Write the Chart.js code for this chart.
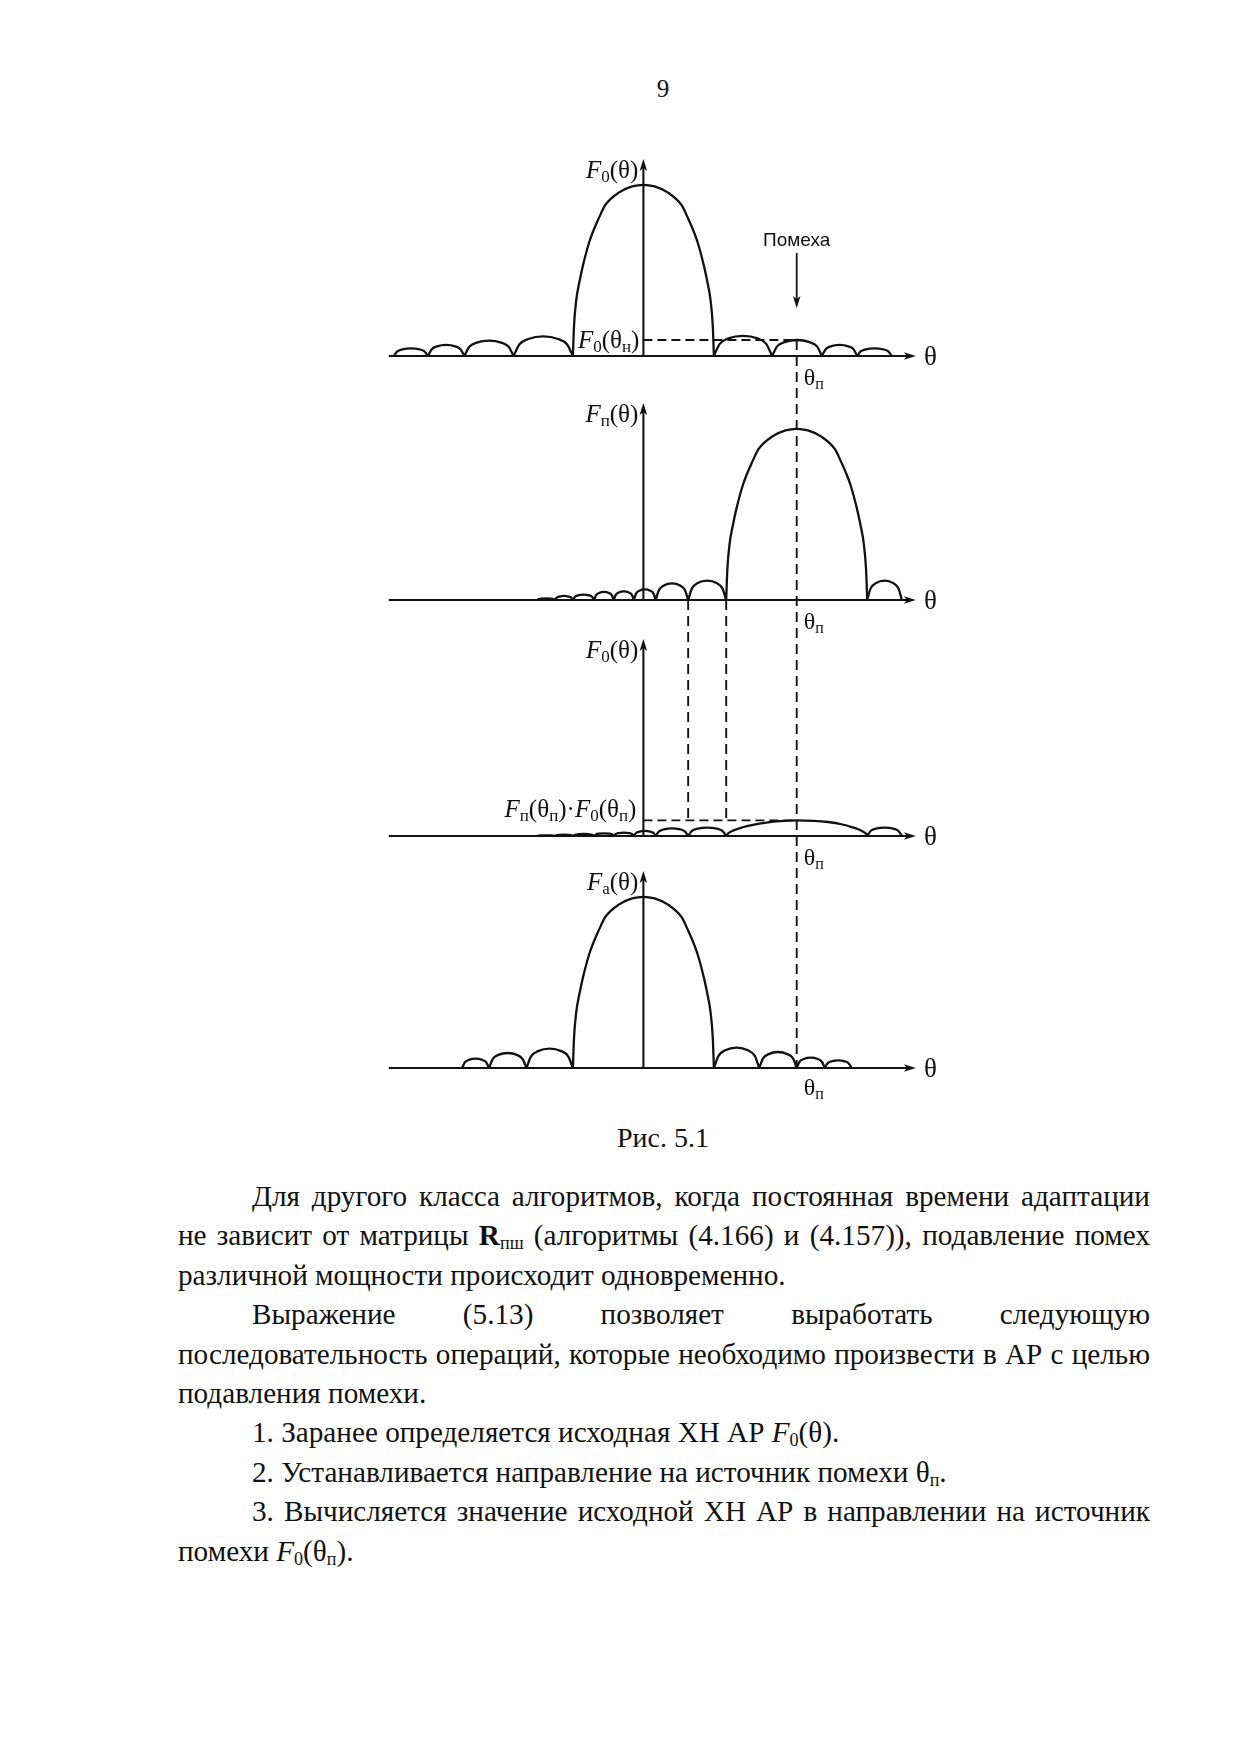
<!DOCTYPE html>
<html><head><meta charset="utf-8">
<script src="https://cdn.jsdelivr.net/npm/chart.js@4/dist/chart.umd.min.js"></script>
<style>
html,body{margin:0;padding:0;background:#fff;}
body{width:1241px;height:1754px;position:relative;overflow:hidden;font-family:"Liberation Serif","Times New Roman",serif;color:#111;}
#fig{position:absolute;left:0;top:0;}
.pg{position:absolute;left:563px;width:200px;top:76px;text-align:center;font-size:25px;line-height:25px;}
.cap{position:absolute;left:513px;width:300px;top:1124px;text-align:center;font-size:28px;line-height:28px;}
.body{position:absolute;left:178px;width:972px;top:1177px;font-size:29.2px;line-height:39.4px;}
.body div{text-align:justify;text-align-last:justify;white-space:normal;}
.body div.l{text-align:left;text-align-last:left;}
.body div.ind{text-indent:74px;}
sub{font-size:62%;vertical-align:-0.22em;line-height:0;}
</style></head>
<body>
<div class="pg">9</div>
<canvas id="fig" width="1241" height="1120"></canvas>
<div class="cap">Рис. 5.1</div>
<div class="body">
<div class="ind">Для другого класса алгоритмов, когда постоянная времени адаптации</div>
<div>не зависит от матрицы <b>R</b><sub>пш</sub> (алгоритмы (4.166) и (4.157)), подавление помех</div>
<div class="l">различной мощности происходит одновременно.</div>
<div class="ind">Выражение (5.13) позволяет выработать следующую</div>
<div>последовательность операций, которые необходимо произвести в АР с целью</div>
<div class="l">подавления помехи.</div>
<div class="ind l">1. Заранее определяется исходная ХН АР <i>F</i><sub>0</sub>(θ).</div>
<div class="ind l">2. Устанавливается направление на источник помехи θ<sub>п</sub>.</div>
<div class="ind">3. Вычисляется значение исходной ХН АР в направлении на источник</div>
<div class="l">помехи <i>F</i><sub>0</sub>(θ<sub>п</sub>).</div>
</div>
<script>
// ---------- DATA (θ in arbitrary units, axis at 0; F in the same units) ----------
const thetaInterference = 137;      // θп
const levelF0AtInterference = 14.3; // F0(θп)
const levelProduct = 14;            // Fп(θп)·F0(θп)
const dashedNulls = [40, 74];       // nulls of Fп carried down to the product plot

// Original pattern F0(θ): lobes
const lobesF0 = [
  [[-223,0],[-220,4.1],[-215.4,6.0],[-207.8,6.9],[-200.1,6.0],[-195.6,4.1],[-192.5,0]],
  [[-192.5,0],[-189.3,5.9],[-184.4,8.6],[-176.3,9.9],[-168.1,8.6],[-163.3,5.9],[-160,0]],
  [[-160,0],[-155.6,8.2],[-149,11.9],[-138,13.7],[-127,11.9],[-120.4,8.2],[-116,0]],
  [[-116,0],[-110.7,10.5],[-102.8,15.2],[-89.5,17.5],[-76.3,15.2],[-68.3,10.5],[-63,0]],
  [[-63,0],[-62,27],[-60,50],[-57,67],[-54,81],[-48,103],[-39,125],[-34,135],[-22,146],[-10,151.5],[0,153],
   [10,151.5],[22,146],[34,135],[39,125],[48,103],[54,81],[57,67],[60,50],[62,27],[63,0]],
  [[63,0],[68.2,10.8],[76,15.7],[89,18],[102,15.7],[109.8,10.8],[115,0]],
  [[115,0],[119.5,8.6],[126.1,12.4],[137.3,14.3],[148.4,12.4],[155.1,8.6],[159.5,0]],
  [[159.5,0],[162.7,5.9],[167.4,8.6],[175.3,9.9],[183.1,8.6],[187.9,5.9],[191,0]],
  [[191,0],[194.1,4.1],[198.8,6.0],[206.5,6.9],[214.3,6.0],[218.9,4.1],[222,0]]
];
// Compensating pattern Fп(θ) steered to θп
const lobesFp = [
  [[-95,0],[-93.4,0.9],[-91,1.3],[-87,1.5],[-83,1.3],[-80.6,0.9],[-79,0]],
  [[-79,0],[-77.4,2.2],[-75,3.1],[-71,3.6],[-67,3.1],[-64.6,2.2],[-63,0]],
  [[-63,0],[-61.1,2.9],[-58.3,4.2],[-53.5,4.8],[-48.8,4.2],[-45.9,2.9],[-44,0]],
  [[-44,0],[-42.3,4.3],[-39.6,6.3],[-35.3,7.2],[-30.9,6.3],[-28.3,4.3],[-26.5,0]],
  [[-26.5,0],[-24.7,4.6],[-22,6.7],[-17.5,7.7],[-13,6.7],[-10.3,4.6],[-8.5,0]],
  [[-8.5,0],[-6.6,5.7],[-3.6,8.3],[1.3,9.5],[6.1,8.3],[9.1,5.7],[11,0]],
  [[11,0],[13.9,8.9],[18.3,13],[25.5,14.9],[32.8,13],[37.1,8.9],[40,0]],
  [[40,0],[43.4,10.4],[48.5,15.1],[57,17.3],[65.5,15.1],[70.6,10.4],[74,0]],
  [[74,0],[75,27],[77,50],[80,67],[83,81],[89,103],[98,125],[103,135],[115,146],[127,151.5],[137,153],
   [147,151.5],[159,146],[171,135],[176,125],[185,103],[191,81],[194,67],[197,50],[199,27],[200,0]],
  [[200,0],[203.1,10.4],[207.8,15.1],[215.5,17.3],[223.3,15.1],[227.9,10.4],[231,0]]
];
// Product Fп(θ)·F0(θп)
const lobesProduct = [
  [[-95,0],[-93.4,0.36],[-91,0.52],[-87,0.6],[-83,0.52],[-80.6,0.36],[-79,0]],
  [[-79,0],[-77.4,0.72],[-75,1.04],[-71,1.2],[-67,1.04],[-64.6,0.72],[-63,0]],
  [[-63,0],[-61.1,1.08],[-58.3,1.57],[-53.5,1.8],[-48.8,1.57],[-45.9,1.08],[-44,0]],
  [[-44,0],[-42.3,1.44],[-39.6,2.09],[-35.3,2.4],[-30.9,2.09],[-28.3,1.44],[-26.5,0]],
  [[-26.5,0],[-24.7,1.8],[-22,2.61],[-17.5,3],[-13,2.61],[-10.3,1.8],[-8.5,0]],
  [[-8.5,0],[-6.6,2.7],[-3.6,3.92],[1.3,4.5],[6.1,3.92],[9.1,2.7],[11,0]],
  [[11,0],[13.9,4.1],[18.3,6.0],[25.5,6.9],[32.8,6.0],[37.1,4.1],[40,0]],
  [[40,0],[43.4,4.5],[48.5,6.5],[57,7.5],[65.5,6.5],[70.6,4.5],[74,0]],
  [[74,0],[76,2.5],[80,4.8],[88,7.6],[98,10],[110,12],[122,13.3],[137,14],[152,13.6],[165,12.5],
   [177,10.5],[186,8],[192,6],[196,4],[199,2],[200,0]],
  [[200,0],[203.1,4.5],[207.8,6.5],[215.5,7.5],[223.3,6.5],[227.9,4.5],[231,0]]
];
// Adapted pattern Fa(θ) with a null at θп
const lobesFa = [
  [[-162,0],[-159.6,5],[-156,7.2],[-150,8.3],[-144,7.2],[-140.4,5],[-138,0]],
  [[-138,0],[-134.7,8],[-129.6,11.7],[-121.3,13.4],[-112.9,11.7],[-107.9,8],[-104.5,0]],
  [[-104.5,0],[-100.4,10.4],[-94.1,15.1],[-83.8,17.3],[-73.4,15.1],[-67.2,10.4],[-63,0]],
  [[-63,0],[-62,27],[-60,50],[-57,67],[-54,81],[-48,103],[-39,125],[-34,135],[-22,146],[-10,151.5],[0,153],
   [10,151.5],[22,146],[34,135],[39,125],[48,103],[54,81],[57,67],[60,50],[62,27],[63,0]],
  [[63,0],[67.1,10.9],[73.1,15.8],[83.3,18.2],[93.4,15.8],[99.5,10.9],[103.5,0]],
  [[103.5,0],[106.9,8.6],[111.9,12.4],[120.3,14.3],[128.6,12.4],[133.7,8.6],[137,0]],
  [[137,0],[139.5,5.6],[143.3,8.1],[149.5,9.3],[155.8,8.1],[159.5,5.6],[162,0]],
  [[162,0],[164.4,4.1],[168,6.0],[174,6.9],[180,6.0],[183.6,4.1],[186,0]]
];
const axisStart = -227.5, axisEnd = 243.5, yAxisTop = 176;

// ---------- LAYOUT ----------
const K = 1.119;             // px per unit
const X_MIN = -240, X_MAX = 260;
const AXIS_PX = 643.4;
const W = 1241, H = 1120;
const AREA_TOP = 130, AREA_BOTTOM = 1110;
const baselinesPx = [356, 600, 836, 1068];
const thetaSubOffset = [29, 29, 29, 27];
const padLeft = AXIS_PX + X_MIN * K;
const padRight = W - (AXIS_PX + X_MAX * K);
const LABEL = 25;

function toPoints(lobes){
  const out = [];
  lobes.forEach((l, i) => {
    if (i) out.push({x: l[0][0], y: null});
    l.forEach(p => out.push({x: p[0], y: p[1]}));
  });
  return out;
}
const INK = '#111';
const yIds = ['y1','y2','y3','y4'];
const scales = {x: {type:'linear', min:X_MIN, max:X_MAX, display:false}};
baselinesPx.forEach((b, i) => {
  scales[yIds[i]] = {type:'linear', display:false, min: -(AREA_BOTTOM - b)/K, max: (b - AREA_TOP)/K};
});
const curve = (lobes, id) => ({data: toPoints(lobes), yAxisID: id, borderColor: INK, borderWidth: 2.3,
  pointRadius: 0, cubicInterpolationMode: 'monotone', fill: false, spanGaps: false});
const dash = (level, id) => ({data: [{x:0, y:level}, {x:thetaInterference, y:level}], yAxisID: id,
  borderColor: INK, borderWidth: 1.9, borderDash: [9,5], pointRadius: 0, fill: false});

function fontFor(p, size){
  const sub = p[1] && p[1].indexOf('s') >= 0;
  const it = p[1] && p[1].indexOf('i') >= 0;
  return (it ? 'italic ' : '') + (sub ? Math.round(size*0.68) : size) + 'px "Liberation Serif"';
}
function rich(ctx, parts, x, y, align, size){
  let w = 0;
  parts.forEach(p => { ctx.font = fontFor(p, size); p.w = ctx.measureText(p[0]).width; w += p.w; });
  let cx = align === 'right' ? x - w : (align === 'center' ? x - w/2 : x);
  ctx.textBaseline = 'alphabetic'; ctx.textAlign = 'left';
  parts.forEach(p => {
    ctx.font = fontFor(p, size);
    const sub = p[1] && p[1].indexOf('s') >= 0;
    ctx.fillText(p[0], cx, y + (sub ? size*0.16 : 0));
    cx += p.w;
  });
}
function arrow(ctx, x, y, dir){ // tip at x,y
  const L = 12, hw = 3.8;
  ctx.beginPath();
  if (dir === 'right'){ ctx.moveTo(x,y); ctx.lineTo(x-L,y-hw); ctx.lineTo(x-L+3,y); ctx.lineTo(x-L,y+hw); }
  else if (dir === 'up'){ ctx.moveTo(x,y); ctx.lineTo(x-hw,y+L); ctx.lineTo(x,y+L-3); ctx.lineTo(x+hw,y+L); }
  else { ctx.moveTo(x,y); ctx.lineTo(x-hw,y-L); ctx.lineTo(x,y-L+3); ctx.lineTo(x+hw,y-L); }
  ctx.closePath(); ctx.fill();
}

const yLabels = [
  [['F','i'],['0','s'],['(θ)','']],
  [['F','i'],['п','s'],['(θ)','']],
  [['F','i'],['0','s'],['(θ)','']],
  [['F','i'],['а','s'],['(θ)','']]
];

const figPlugin = {
  id: 'fig',
  afterDatasetsDraw(chart){
    const ctx = chart.ctx, xs = chart.scales.x;
    ctx.save();
    ctx.strokeStyle = INK; ctx.fillStyle = INK; ctx.lineWidth = 2;
    const x0 = xs.getPixelForValue(0);
    const xN = xs.getPixelForValue(thetaInterference);
    yIds.forEach((id, i) => {
      const ys = chart.scales[id];
      const yb = ys.getPixelForValue(0);
      const xa = xs.getPixelForValue(axisStart), xe = xs.getPixelForValue(axisEnd);
      const yt = ys.getPixelForValue(yAxisTop);
      ctx.setLineDash([]); ctx.lineWidth = 2.1;
      ctx.beginPath(); ctx.moveTo(xa, yb); ctx.lineTo(xe - 8, yb); ctx.stroke();
      arrow(ctx, xe, yb, 'right');
      ctx.beginPath(); ctx.moveTo(x0, yb); ctx.lineTo(x0, yt + 8); ctx.stroke();
      arrow(ctx, x0, yt, 'up');
      // labels
      rich(ctx, yLabels[i], x0 - 5, yt + 19, 'right', LABEL);
      rich(ctx, [['θ','']], xe + 8, yb + 9, 'left', 27);
      rich(ctx, [['θ',''],['п','s']], xN + 7, yb + thetaSubOffset[i], 'left', 24);
    });
    // long vertical dashed line at θп
    ctx.setLineDash([10,6]); ctx.lineWidth = 1.9;
    ctx.beginPath();
    ctx.moveTo(xN, chart.scales.y1.getPixelForValue(levelF0AtInterference));
    ctx.lineTo(xN, chart.scales.y4.getPixelForValue(0));
    ctx.stroke();
    dashedNulls.forEach(v => {
      const xp = xs.getPixelForValue(v);
      ctx.beginPath();
      ctx.moveTo(xp, chart.scales.y2.getPixelForValue(0));
      ctx.lineTo(xp, chart.scales.y3.getPixelForValue(levelProduct));
      ctx.stroke();
    });
    ctx.setLineDash([]);
    // level labels
    rich(ctx, [['F','i'],['0','s'],['(θ',''],['н','s'],[')','']], x0 - 4,
         chart.scales.y1.getPixelForValue(levelF0AtInterference) + 8, 'right', LABEL);
    rich(ctx, [['F','i'],['п','s'],['(θ',''],['п','s'],[')·',''],['F','i'],['0','s'],['(θ',''],['п','s'],[')','']],
         x0 - 7, chart.scales.y3.getPixelForValue(levelProduct) - 3, 'right', LABEL);
    // "Помеха" with arrow
    const y1 = chart.scales.y1;
    ctx.font = '19px "Liberation Sans"'; ctx.textAlign = 'center'; ctx.textBaseline = 'middle';
    ctx.fillText('Помеха', xN, y1.getPixelForValue(103));
    ctx.lineWidth = 1.8;
    ctx.beginPath(); ctx.moveTo(xN, y1.getPixelForValue(92)); ctx.lineTo(xN, y1.getPixelForValue(45)); ctx.stroke();
    arrow(ctx, xN, y1.getPixelForValue(43), 'down');
    ctx.restore();
  }
};

new Chart(document.getElementById('fig'), {
  type: 'line',
  data: {datasets: [
    curve(lobesF0, 'y1'), curve(lobesFp, 'y2'), curve(lobesProduct, 'y3'), curve(lobesFa, 'y4'),
    dash(levelF0AtInterference, 'y1'), dash(levelProduct, 'y3')
  ]},
  options: {
    responsive: false, animation: false, events: [],
    layout: {padding: {left: padLeft, right: padRight, top: AREA_TOP, bottom: H - AREA_BOTTOM}},
    plugins: {legend: {display: false}, tooltip: {enabled: false}, title: {display: false}},
    scales: scales
  },
  plugins: [figPlugin]
});
</script>
</body></html>
